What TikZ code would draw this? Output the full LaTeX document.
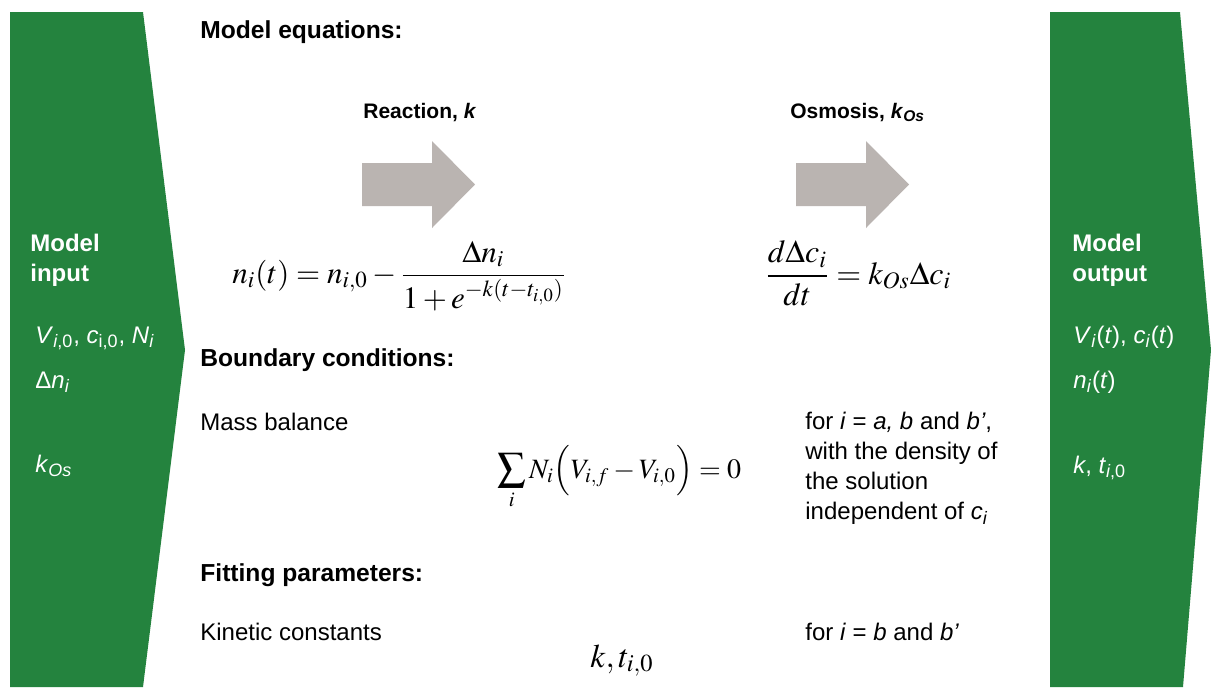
\documentclass[tikz,border=0pt]{standalone}
\usepackage{mathptmx}
\usepackage[no-math]{fontspec}
\setmainfont{Liberation Sans}
\definecolor{panelgreen}{RGB}{36,131,62}
\definecolor{arrowgray}{RGB}{186,180,177}
\newcommand{\sbs}[1]{\textsubscript{#1}}
\begin{document}
\begin{tikzpicture}[x=0.5pt,y=-0.5pt,
  hdr/.style={font=\bfseries\fontsize{12.3}{15}\selectfont, anchor=base west, inner sep=0pt},
  body/.style={font=\fontsize{12}{15}\selectfont, anchor=base west, inner sep=0pt},
  lbl/.style={font=\bfseries\fontsize{10.5}{13}\selectfont, anchor=base west, inner sep=0pt},
  gtitle/.style={text=white, font=\bfseries\fontsize{12}{15}\selectfont, anchor=base west, inner sep=0pt},
  gtext/.style={text=white, font=\fontsize{12}{15}\selectfont, anchor=base west, inner sep=0pt},
  eqn/.style={font=\fontsize{15.5}{19}\selectfont, anchor=base west, inner sep=0pt},
  panel/.style={fill=panelgreen, draw=none},
  fatarrow/.style={fill=arrowgray, draw=none}]
\useasboundingbox (0,0) rectangle (1211,687);
\fill[white] (0,0) rectangle (1211,687);
% green panels
\path[panel] (10,12) -- (143,12) -- (185,350) -- (143,687) -- (10,687) -- cycle;
\path[panel] (1050,12) -- (1180,12) -- (1211,350) -- (1183,687) -- (1050,687) -- cycle;
% grey arrows
\path[fatarrow] (362,163) -- (432,163) -- (432,141) -- (475,184.5) -- (432,228) -- (432,206) -- (362,206) -- cycle;
\path[fatarrow] (796,163) -- (866,163) -- (866,141) -- (909,184.5) -- (866,228) -- (866,206) -- (796,206) -- cycle;
% left panel text
\node[gtitle] (inT1) at (30,251) {Model};
\node[gtitle] (inT2) at (30,281) {input};
\node[gtext] (in1) at (35,343) {\textit{V}\sbs{\textit{i},0}, \textit{c}\sbs{i,0}, \textit{N}\sbs{\textit{i}}};
\node[gtext] (in2) at (35,388) {Δ\textit{n}\sbs{\textit{i}}};
\node[gtext] (in3) at (35,472) {\textit{k}\sbs{\textit{Os}}};
% right panel text
\node[gtitle] (outT1) at (1072,251) {Model};
\node[gtitle] (outT2) at (1072,281) {output};
\node[gtext] (out1) at (1073,343) {\textit{V}\sbs{\textit{i}}(\textit{t}), \textit{c}\sbs{\textit{i}}(\textit{t})};
\node[gtext] (out2) at (1073,388) {\textit{n}\sbs{\textit{i}}(\textit{t})};
\node[gtext] (out3) at (1073,473) {\textit{k}, \textit{t}\sbs{\textit{i},0}};
% middle
\node[hdr] (meq) at (200,38) {Model equations:};
\node[lbl] (rlab) at (363,118) {Reaction, \textit{k}};
\node[lbl] (olab) at (790,118) {Osmosis, \textit{k}\sbs{\textit{Os}}};
\node[eqn] (eq1) at (232,283) {$\displaystyle n_i(t)=n_{i,0}-\frac{\Delta n_i}{1+e^{-k(t-t_{i,0})}}$};
\node[eqn, font=\fontsize{16}{19}\selectfont] (eq2) at (765,284) {$\displaystyle \frac{d\Delta c_i}{dt}=k_{Os}\Delta c_i$};
\node[hdr] (bc) at (200,366) {Boundary conditions:};
\node[body] (mb) at (200,430) {Mass balance};
\node[eqn, font=\fontsize{14}{17}\selectfont] (eq3) at (497,478) {$\displaystyle \sum_i N_i\Bigl(V_{i,f}-V_{i,0}\Bigr)=0$};
\node[body, anchor=north west, align=left] (cond) at (805,411.5)
  {for \textit{i} = \textit{a, b} and \textit{b’},\\with the density of\\the solution\\independent of \textit{c}\sbs{\textit{i}}};
\node[hdr] (fp) at (200,581) {Fitting parameters:};
\node[body] (kc) at (200,640) {Kinetic constants};
\node[body] (c5) at (805,640) {for \textit{i} = \textit{b} and \textit{b’}};
\node[eqn, font=\fontsize{16.5}{19}\selectfont] (eq4) at (590,667) {$k,t_{i,0}$};
\end{tikzpicture}
\end{document}
